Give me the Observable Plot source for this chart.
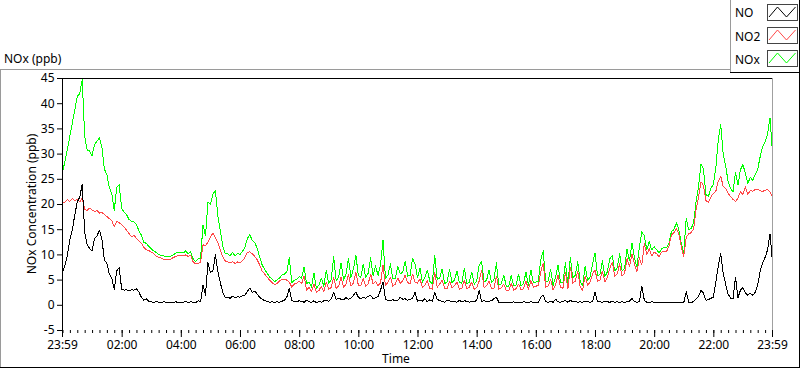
<!DOCTYPE html>
<html><head><meta charset="utf-8">
<script src="https://cdn.jsdelivr.net/npm/d3@7"></script>
<script src="https://cdn.jsdelivr.net/npm/@observablehq/plot@0.6"></script>
<style>
html,body{margin:0;padding:0;background:#fff;}
#wrap{position:relative;width:800px;height:369px;overflow:hidden;font-family:"Noto Sans",sans-serif;}
#wrap svg{position:absolute;left:0;top:0;}
</style></head><body><div id="wrap"></div>
<script>
// Series names (legend order) and the chart texts
const seriesNames = ["NO", "NO2", "NOx"];
const titleText = "NOx (ppb)";
const yLabel = "NOx Concentration (ppb)";
const xLabel = "Time";
const xTickLabels = ["23:59","02:00","04:00","06:00","08:00","10:00","12:00","14:00","16:00","18:00","20:00","22:00","23:59"];
const yTicks = [-5, 0, 5, 10, 15, 20, 25, 30, 35, 40, 45];
const stepMinutes = 5; // one reading every 5 minutes, starting 23:59

// NO (ppb)
const NO = [6.5,8,10,13,15,18,20.5,21.5,24,14.5,12,11.3,10.8,13.3,13.8,14.9,13,9,8.3,6.2,5.3,3.2,6.8,7.5,3.2,3,3.1,2.8,3.1,3,3.3,2.6,1.6,1,1.3,0.8,0.7,0.5,0.8,0.6,0.5,0.7,0.6,0.5,0.6,0.5,0.7,0.5,0.6,
0.6,0.8,0.5,0.7,0.6,0.5,0.9,0.7,4,2,8.5,6.5,6.8,10,6.8,4.5,2.6,1.5,1.6,1.4,1.8,1.5,1.7,1.6,1.9,2,2.8,3.4,2.6,2.8,2.2,1.6,1.2,0.9,0.8,0.6,0.7,0.6,0.7,0.6,0.8,1,1.6,3.4,0.9,0.8,0.7,0.9,
0.8,0.6,1,0.7,0.6,0.9,0.5,0.8,0.6,0.9,1,0.8,1.3,2.5,1.2,1.4,1.2,1.1,1.5,1.2,1.4,2,2.6,1.6,1.3,1.6,1.4,1.8,2,1.3,1.5,1.7,3,4.6,1.2,1,0.9,1.1,0.9,1,1.6,1.2,1.3,1,1.2,1.4,2.6,0.8,
1,0.8,1.3,0.7,1.1,0.8,2.6,1.2,0.9,0.8,0.6,1,0.9,0.7,0.8,0.6,1,0.7,0.9,0.8,0.6,0.8,0.7,1,3,0.8,0.9,0.7,0.8,0.9,1.3,1.6,0.6,0.5,0.6,0.5,0.6,0.5,0.7,0.5,0.6,0.5,0.7,0.6,0.5,0.7,0.6,0.5,
0.6,1.6,2,0.7,0.6,0.8,0.6,1.2,0.7,0.6,0.8,0.9,0.6,1,0.7,0.8,0.6,0.7,0.6,0.8,0.7,0.6,0.7,2.6,0.8,0.7,0.6,0.8,0.7,0.6,0.8,0.6,0.7,0.6,0.7,0.6,0.7,0.8,1.4,0.7,0.6,0.7,3.8,1,0.6,0.6,0.7,0.6,
0.6,0.5,0.6,0.5,0.6,0.5,0.6,0.5,0.6,0.5,0.6,0.5,2.7,0.6,0.5,0.8,1.3,1.8,3,2.4,1,1.1,1.4,1.6,4.5,7.8,10.3,6.3,4.2,2.2,1.4,1.3,5.6,1.5,3,3.5,2.5,2,2.4,2,2.6,4,6.8,8.5,9.5,11,14.2,8.5];

// NO2 (ppb)
const NO2 = [20.2,20.5,21,20.6,21.2,20.8,21,20.5,21.3,19,18.8,19.3,18.9,18.6,18.8,18.3,18.4,18,17.6,17.2,16.8,15.6,16.6,16.4,16,15.5,14.9,14.2,13.6,13.9,13.3,12.8,12.3,11.5,11,10.9,10.5,10.3,9.7,9.5,9.4,9.1,9,9.1,9.2,9.5,9.7,9.9,9.8,
9.8,10,9.7,9.9,8.6,8.2,8.3,8.6,12,11.8,12.5,13.5,14.3,13.5,12.4,11,9.6,8.8,8.6,8.4,8.7,8.3,8.6,8.5,8.8,9.5,10.5,10.6,10.2,9.7,9,8,6.8,6.2,5.6,5,4.5,4.1,4.3,4.8,5.2,5.2,5,4.6,3.6,4.2,4.4,4.8,
4.3,5.8,3,3.6,2.8,4.2,2.6,2.9,3.8,2.7,4.6,3.2,3.5,5.5,3.4,3.8,5.6,3.6,4.2,6.2,3.8,4.4,6.6,4,3.9,5.3,3.8,4.3,6.2,4.2,4.8,3.9,4.4,8,3.9,4.6,5.6,3.8,4.2,5.4,4.4,4.8,6,4.5,4.3,6.2,4.6,4.4,
5.2,3.6,4,4.9,3.4,3.2,6.6,3.6,4.2,5,3.4,3.3,4.8,3.5,3.9,4.6,3.2,3.4,5,3.3,3.6,4.6,3.2,3.5,4.8,7,3.5,3.9,4.8,3.3,3.4,5.8,3.2,3.5,4.2,3,2.9,4.4,3,3.3,4.2,3.1,3.3,4.8,3.2,4.9,3.6,3.8,
3.9,6.6,8.4,3.6,3.8,5.2,3,4,6,3.6,3.4,6.6,3.3,7.6,4.4,4.8,6.8,3.6,3,5.8,4,4.6,6.2,7,4.8,5,6.8,4.6,5.6,7.3,8.6,5.8,6.2,8.2,5.8,6.4,9.3,7.6,10.2,8.2,6.6,9.4,8,12.3,10,11.2,9.8,10.6,
10.2,9.7,10.5,10.8,10.6,11.8,13.9,14.4,15.3,14.2,11.6,9.7,13.5,14.2,14.4,15.2,19,21.5,24.5,23.8,20.8,20.4,21.5,22.2,22.6,24.6,25.6,23.6,23.2,22.2,21.6,21,20.6,21.3,22.5,22,23.5,22,22.8,22.6,23,23,22.7,22.6,22.8,23,22.5,21.6];

// NOx (ppb)
const NOx = [26.5,28.5,31,33.6,36.2,38.8,41.5,42,44.8,33.5,30.8,30.6,29.7,31.9,32.6,33.2,31.4,27,25.9,23.4,22.1,18.8,23.4,23.9,19.2,18.5,18,17,16.7,16.5,16,14.8,13.9,12.5,12.3,11.7,11.2,10.8,10.5,10.1,9.9,9.8,9.6,9.6,9.8,10,10.4,10.4,10.4,
10.4,10.8,10.2,10.6,9.2,8.7,9.2,9.3,16,13.8,20.5,20,22,22.8,17.8,14.8,11.8,10.3,10.2,9.8,10.5,9.8,10.3,10.1,10.7,11.5,13.3,14,12.8,12.5,11.2,9.6,8,7.1,6.4,5.6,5.2,4.7,5,5.4,6,6.2,6.6,9.5,4.5,5,5.1,5.7,
5.4,7.6,4.3,4.6,3.6,6.4,3.4,4,5.4,3.8,7,4.3,5.1,9.6,4.9,5.6,8.4,5,6.2,9.3,5.5,7.2,10,5.9,5.5,8.2,5.5,6.4,9.4,5.8,7.8,5.9,8,13,5.4,6,8.2,5.2,5.4,7.8,6.3,6.5,8.8,5.8,5.9,9.3,8.2,5.5,
7.4,4.6,5.6,7,4.8,4.3,9.8,5.1,5.4,7.2,4.3,4.6,7.2,4.5,5,6.8,4.5,4.4,7.4,4.3,4.5,6.6,4.2,4.8,8,8.6,4.7,4.9,7,4.5,5,8.4,4,4.3,6,3.8,3.7,5.9,3.9,4,6.2,3.9,4.3,6.6,4,7,4.5,4.6,
4.8,9,10.8,4.6,4.8,7.2,3.9,5.6,8,4.5,4.5,8.4,4.2,9.4,5.4,6,8.6,4.6,3.9,7.8,5,5.6,8.2,10.4,5.9,6.1,8.8,5.7,6.6,9.2,9.9,6.8,7.4,10.2,6.8,7.4,11.2,8.8,12.4,9.4,7.6,11.6,14.6,13.8,11,12.6,11,11.6,
11,10.4,11.2,11.5,11.4,12.4,14.6,15,16.4,15,12.3,10.3,17.3,15,15.2,16.4,20.6,23.6,28,27,22,21.6,23.2,24,27.2,32.8,35.9,30,27.6,24.6,23.2,22.5,26.4,23.8,26.9,27.9,26.2,24.2,25.4,24.8,26,27,29.5,31.5,32.5,34,37.2,30.2];

const colors = {NO: "#000000", NO2: "#ff4848", NOx: "#00ff00"};

// Time axis
const xTickDates = xTickLabels.map((s, i) => {
  const [h, m] = s.split(":").map(Number);
  return new Date(Date.UTC(2000, 0, i === 0 ? 1 : 2, h, m));
});
const startTime = xTickDates[0];
const endTime = xTickDates[xTickDates.length - 1];
const minorTicks = d3.utcMinute.every(15).range(startTime, endTime);

const rows = NO.map((v, i) => ({
  time: new Date(+startTime + i * stepMinutes * 60000),
  NO: v, NO2: NO2[i], NOx: NOx[i]
}));

const chart = Plot.plot({
  width: 800, height: 369,
  marginLeft: 62, marginRight: 28, marginTop: 78, marginBottom: 39,
  style: {fontFamily: '"Noto Sans", sans-serif', fontSize: "12px", color: "#000", background: "transparent"},
  x: {type: "utc", domain: [startTime, endTime]},
  y: {domain: [-5, 45]},
  marks: [
    Plot.line(rows, {x: "time", y: "NOx", stroke: colors.NOx, strokeWidth: 1, shapeRendering: "crispEdges"}),
    Plot.line(rows, {x: "time", y: "NO2", stroke: colors.NO2, strokeWidth: 1, shapeRendering: "crispEdges"}),
    Plot.line(rows, {x: "time", y: "NO", stroke: colors.NO, strokeWidth: 1, shapeRendering: "crispEdges"}),
    Plot.ruleY([45], {stroke: "#000"}),
    Plot.ruleX([startTime], {stroke: "#000"}),
    Plot.ruleX([endTime], {stroke: "#a0a0a0"}),
    Plot.axisY({ticks: yTicks, tickSize: 5, tickPadding: 3, label: null, tickFormat: d => String(d)}),
    Plot.axisX({ticks: minorTicks, tickSize: 3, tickFormat: () => "", label: null}),
    Plot.axisX({ticks: xTickDates, tickSize: 7, tickPadding: 3, tickFormat: d3.utcFormat("%H:%M"), label: null})
  ]
});
const wrap = document.getElementById("wrap");
wrap.appendChild(chart);

// Panel frame, title, axis titles and legend
const deco = d3.create("svg").attr("width", 800).attr("height", 369)
  .style("font-family", '"Noto Sans", sans-serif').style("font-size", "12px");
const gray = "#9a9a9a";
deco.append("line").attr("x1", 0).attr("x2", 731).attr("y1", 69.5).attr("y2", 69.5).attr("stroke", gray);
deco.append("line").attr("x1", 0.5).attr("x2", 0.5).attr("y1", 69).attr("y2", 368).attr("stroke", gray);
deco.append("line").attr("x1", 0).attr("x2", 800).attr("y1", 367.5).attr("y2", 367.5).attr("stroke", "#000");
deco.append("line").attr("x1", 799.5).attr("x2", 799.5).attr("y1", 0).attr("y2", 368).attr("stroke", "#000");
deco.append("text").attr("x", 4).attr("y", 63).attr("fill", "#000").text(titleText);
deco.append("text").attr("transform", "translate(36,204) rotate(-90)").attr("text-anchor", "middle")
  .attr("fill", "#000").text(yLabel);
deco.append("text").attr("x", 396).attr("y", 363).attr("text-anchor", "middle").attr("fill", "#000").text(xLabel);
// legend box
deco.append("rect").attr("x", 731).attr("y", 0).attr("width", 68).attr("height", 72).attr("fill", "#fff");
deco.append("line").attr("x1", 730.5).attr("x2", 730.5).attr("y1", 0).attr("y2", 73).attr("stroke", gray);
deco.append("line").attr("x1", 730).attr("x2", 800).attr("y1", 72.5).attr("y2", 72.5).attr("stroke", "#000");
seriesNames.forEach((name, i) => {
  const y0 = 4 + i * 23;
  deco.append("text").attr("x", 735).attr("y", 17 + i * 23.5).attr("fill", "#000").text(name);
  deco.append("rect").attr("x", 767.5).attr("y", y0 + 0.5).attr("width", 30).attr("height", 16)
    .attr("fill", "#fff").attr("stroke", "#444");
  deco.append("polyline")
    .attr("points", [[769, y0 + 13], [777.5, y0 + 3], [786.5, y0 + 13], [795.5, y0 + 3]].map(p => p.join(",")).join(" "))
    .attr("fill", "none").attr("stroke", colors[name]).attr("stroke-width", 1);
});
wrap.appendChild(deco.node());
</script></body></html>
